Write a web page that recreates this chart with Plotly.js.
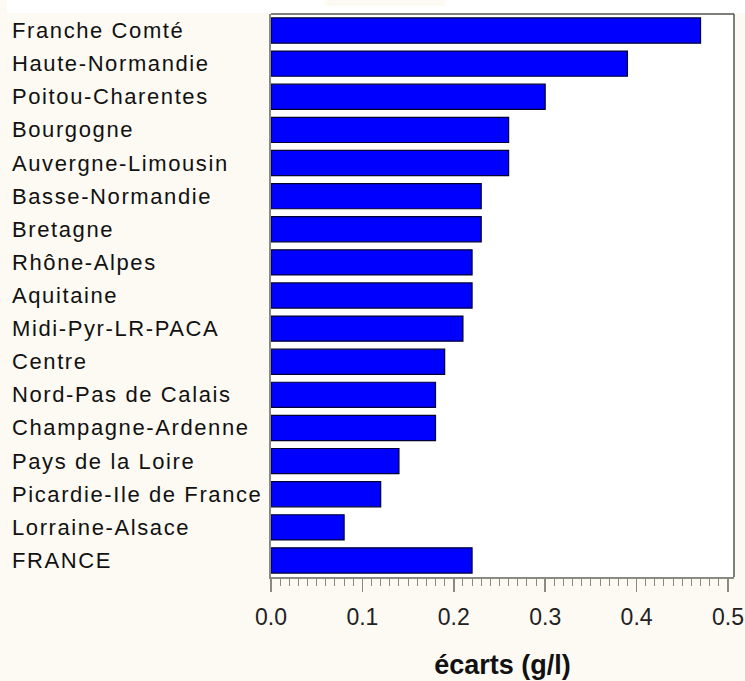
<!DOCTYPE html>
<html>
<head>
<meta charset="utf-8">
<script src="https://cdn.plot.ly/plotly-3.0.1.min.js"></script>
<style>
html, body { margin: 0; padding: 0; background: #FDFAF3; }
#chart { width: 745px; height: 681px; }
.annotation-text { letter-spacing: 1.6px; }
</style>
</head>
<body>
<div id="chart"></div>
<script>
const regions = [
  "Franche Comté", "Haute-Normandie", "Poitou-Charentes", "Bourgogne",
  "Auvergne-Limousin", "Basse-Normandie", "Bretagne", "Rhône-Alpes",
  "Aquitaine", "Midi-Pyr-LR-PACA", "Centre", "Nord-Pas de Calais",
  "Champagne-Ardenne", "Pays de la Loire", "Picardie-Ile de France",
  "Lorraine-Alsace", "FRANCE"
];
const ecarts = [
  0.47, 0.39, 0.30, 0.26,
  0.26, 0.23, 0.23, 0.22,
  0.22, 0.21, 0.19, 0.18,
  0.18, 0.14, 0.12,
  0.08, 0.22
];
const xTickVals = [0, 0.1, 0.2, 0.3, 0.4, 0.5];
const xTickText = ["0.0", "0.1", "0.2", "0.3", "0.4", "0.5"];
const xTitle = "écarts (g/l)";

const trace = {
  type: "bar",
  orientation: "h",
  y: regions,
  x: ecarts,
  marker: { color: "#0000FF", line: { color: "#000033", width: 1.2 } },
  hoverinfo: "x+y"
};

const annotations = regions.map(r => ({
  xref: "paper", yref: "y",
  x: (10 - 271) / 463, y: r,
  xanchor: "left", yanchor: "middle", align: "left",
  text: r, showarrow: false,
  font: { family: "Liberation Sans, Arial, sans-serif", size: 22, color: "#111111" }
}));

const layout = {
  width: 745, height: 681,
  margin: { l: 271, r: 11, t: 14, b: 104, pad: 0 },
  paper_bgcolor: "#FDFAF3",
  plot_bgcolor: "#FFFFFF",
  showlegend: false,
  bargap: 0.24,
  xaxis: {
    range: [0, 0.5066],
    tickvals: xTickVals, ticktext: xTickText,
    ticks: "outside", ticklen: 13, tickwidth: 1.5, tickcolor: "#8a8a82",
    minor: { dtick: 0.01, ticks: "outside", ticklen: 7, tickwidth: 1, tickcolor: "#8a8a82" },
    showgrid: false, zeroline: false,
    showline: true, linecolor: "#8a8a82", linewidth: 1.5,
    ticklabelstandoff: 6,
    tickfont: { family: "Liberation Sans, Arial, sans-serif", size: 23, color: "#222222" },
    title: {
      text: "<b>" + xTitle + "</b>",
      standoff: 26,
      font: { family: "Liberation Sans, Arial, sans-serif", size: 27, color: "#111111" }
    },
    fixedrange: true
  },
  yaxis: {
    type: "category",
    autorange: "reversed",
    showticklabels: false,
    ticks: "",
    showgrid: false, zeroline: false,
    showline: true, linecolor: "#8a8a82", linewidth: 2,
    fixedrange: true
  },
  annotations: annotations,
  shapes: [
    { type: "line", xref: "paper", yref: "paper", x0: 0, x1: 1, y0: 1, y1: 1,
      line: { color: "#555550", width: 1.5 }, layer: "above" },
    { type: "line", xref: "paper", yref: "paper", x0: 1, x1: 1, y0: 0, y1: 1,
      line: { color: "#555550", width: 1.5 }, layer: "above" },
    { type: "rect", xref: "paper", yref: "paper",
      x0: (7 - 271) / 463, x1: (745 - 271) / 463,
      y0: 1 + 1 / 563, y1: 1 + 14 / 563,
      fillcolor: "#FFFFFF", line: { width: 0 }, layer: "below" },
    { type: "rect", xref: "paper", yref: "paper",
      x0: (325 - 271) / 463, x1: (445 - 271) / 463,
      y0: 1 + 8 / 563, y1: 1 + 14 / 563,
      fillcolor: "#FDFAF3", line: { width: 0 }, layer: "below" }
  ]
};

Plotly.newPlot("chart", [trace], layout, { displayModeBar: false, staticPlot: true });
</script>
</body>
</html>
